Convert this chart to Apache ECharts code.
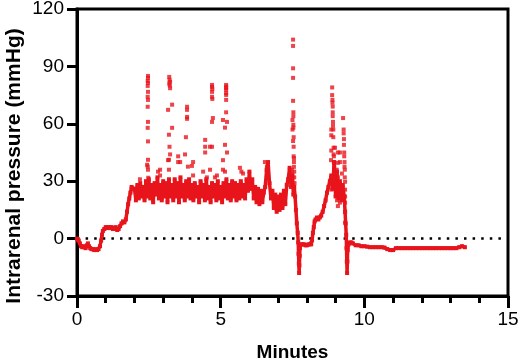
<!DOCTYPE html>
<html>
<head>
<meta charset="utf-8">
<script src="https://cdn.jsdelivr.net/npm/echarts@6/dist/echarts.min.js"></script>
<style>
  html, body { margin: 0; padding: 0; background: #fff; }
  #chart { width: 520px; height: 362px; }
</style>
</head>
<body>
<div id="chart"></div>
<script>
// pressure trace, [minutes, mmHg]
const startRun = [[0, 0], [0.03, -0.5], [0.06, -1], [0.10, -2.5], [0.14, -4], [0.18, -4.5], [0.22, -4], [0.26, -4.5],
  [0.30, -5], [0.34, -3.5], [0.38, -2.5], [0.42, -4], [0.46, -5], [0.50, -5.5], [0.55, -5.5], [0.60, -6], [0.65, -5.5],
  [0.70, -6], [0.75, -5.5], [0.80, -4], [0.84, -1], [0.87, 2], [0.90, 4], [0.95, 5], [1.00, 6], [1.05, 5.5], [1.10, 6],
  [1.15, 5.5], [1.20, 6], [1.25, 5], [1.30, 5.5], [1.35, 6], [1.40, 4.5], [1.45, 5], [1.50, 6.5], [1.55, 8], [1.60, 9],
  [1.65, 8.5], [1.70, 10], [1.74, 14], [1.78, 18], [1.82, 21], [1.86, 24], [1.90, 27], [1.94, 26]]

const plateauRun = [[2.00, 26], [2.05, 20], [2.10, 28], [2.15, 21], [2.20, 29], [2.25, 22], [2.30, 27], [2.35, 20],
  [2.40, 30], [2.45, 22], [2.50, 31], [2.55, 21], [2.60, 28], [2.65, 19], [2.70, 29], [2.75, 23], [2.80, 32], [2.85, 21],
  [2.90, 28], [2.95, 20], [3.00, 30], [3.05, 22], [3.10, 29], [3.15, 19], [3.20, 31], [3.25, 22], [3.30, 28], [3.35, 20],
  [3.40, 31], [3.45, 22], [3.50, 29], [3.55, 19], [3.60, 32], [3.65, 22], [3.70, 28], [3.75, 20], [3.80, 30], [3.85, 22],
  [3.90, 31], [3.95, 21], [4.00, 28], [4.05, 20], [4.10, 29], [4.15, 22], [4.20, 27], [4.25, 19], [4.30, 30], [4.35, 22],
  [4.40, 28], [4.45, 20], [4.50, 31], [4.55, 21], [4.60, 27], [4.65, 19], [4.70, 29], [4.75, 22], [4.80, 28], [4.85, 20],
  [4.90, 30], [4.95, 21], [5.00, 27], [5.05, 19], [5.10, 29], [5.15, 22], [5.20, 31], [5.25, 21], [5.30, 28], [5.35, 20],
  [5.40, 30], [5.45, 22], [5.50, 29], [5.55, 20], [5.60, 28], [5.65, 21], [5.70, 30], [5.75, 22], [5.80, 28], [5.85, 21],
  [5.90, 31], [5.95, 25], [6.00, 35], [6.05, 26], [6.10, 31], [6.15, 21], [6.20, 27], [6.25, 19], [6.30, 26], [6.35, 18],
  [6.40, 25], [6.45, 19], [6.50, 24], [6.55, 27], [6.60, 36], [6.65, 40], [6.70, 29], [6.75, 21], [6.80, 25], [6.85, 16],
  [6.90, 23], [6.95, 14], [7.00, 22], [7.05, 15], [7.10, 23], [7.15, 16], [7.20, 25], [7.25, 18], [7.30, 28], [7.35, 31],
  [7.40, 37], [7.45, 27], [7.50, 33], [7.53, 23]]

const dropRun = [[7.56, 27], [7.59, 22], [7.62, 15], [7.65, 8], [7.68, 3], [7.70, -2], [7.71, -8], [7.72, -13],
  [7.73, -18], [7.74, -14], [7.75, -9], [7.76, -5], [7.80, -3], [7.85, -3], [7.90, -3], [7.95, -3.5], [8.00, -3.5],
  [8.05, -3], [8.10, -3], [8.15, -3]]

const riseRun = [[8.18, -1], [8.21, 3], [8.24, 6], [8.27, 9], [8.30, 10], [8.35, 11], [8.40, 10], [8.45, 11], [8.50, 12],
  [8.55, 14], [8.60, 17], [8.65, 20], [8.70, 24], [8.75, 27], [8.80, 30], [8.85, 33], [8.90, 26], [8.95, 40], [9.00, 22],
  [9.05, 35], [9.10, 21], [9.15, 30], [9.20, 20], [9.25, 28], [9.30, 22], [9.33, 14], [9.35, 8], [9.37, 2], [9.38, -5],
  [9.39, -12], [9.40, -18], [9.41, -12], [9.42, -6]]

const tailRun = [[9.45, -3], [9.50, -2], [9.55, -2], [9.60, -2.5], [9.70, -3.5], [9.80, -3.5], [9.90, -4], [10.0, -4],
  [10.1, -4.2], [10.2, -4.5], [10.3, -4.5], [10.4, -4.5], [10.5, -4.5], [10.6, -4.5], [10.7, -4.7], [10.8, -5.5],
  [10.9, -6], [11.0, -6], [11.1, -5], [11.2, -5], [11.3, -5], [11.4, -5], [11.5, -5], [11.6, -5], [11.7, -5], [11.8, -5],
  [11.9, -5], [12.0, -5], [12.1, -5], [12.2, -5], [12.3, -5], [12.4, -5], [12.5, -5], [12.6, -5], [12.7, -5], [12.8, -5],
  [12.9, -5], [13.0, -5], [13.1, -5], [13.2, -5], [13.3, -4.5], [13.4, -4], [13.5, -4.5]]

// isolated readings during the pressure spikes
const spikePoints = [
  [2.47, 85], [2.47, 84], [2.46, 82.4], [2.47, 81.4], [2.46, 79.8], [2.47, 76.7], [2.46, 74.1], [2.47, 72.5],
  [2.46, 68.9], [2.47, 61], [2.46, 57.9], [2.47, 50.8], [2.47, 41.2], [2.46, 37.7], [2.47, 36], [2.48, 31.8],
  [2.44, 38.6], [2.82, 35], [2.19, 31], [2.89, 36], [2.89, 33],
  [3.21, 84.5], [3.22, 83], [3.24, 82], [3.21, 81], [3.23, 80], [3.24, 78.6], [3.17, 67.3], [3.31, 70], [3.31, 57.9],
  [3.20, 54.3], [3.22, 48], [3.20, 41.2], [3.24, 44], [3.17, 41], [3.20, 36],
  [3.83, 68.9], [3.83, 67.3], [3.83, 63.6], [3.83, 62.6], [3.79, 53], [3.52, 43], [3.52, 40], [3.86, 37.6],
  [4.04, 40], [4.04, 33], [3.59, 40], [3.76, 44], [4.00, 38], [4.39, 35], [4.52, 32],
  [4.70, 80.3], [4.70, 79.3], [4.71, 78.2], [4.70, 76.7], [4.70, 74.1], [4.71, 73], [4.73, 63], [4.70, 61],
  [4.46, 51.6], [4.46, 45], [4.46, 48], [4.70, 48], [4.63, 36], [4.63, 48], [4.80, 32], [4.87, 33],
  [5.19, 80.3], [5.19, 79.4], [5.19, 78.6], [5.19, 77.7], [5.19, 76], [5.19, 75.1], [5.19, 72.5], [5.19, 66],
  [5.22, 61], [5.15, 58], [5.15, 49], [5.22, 45], [5.08, 41], [5.15, 35], [5.08, 62], [5.08, 36],
  [5.67, 37], [5.72, 35], [5.78, 34], [6.54, 40], [6.61, 37.6], [7.48, 36], [7.48, 34],
  [7.52, 104], [7.52, 100.7], [7.52, 89], [7.52, 84], [7.52, 72], [7.53, 66], [7.53, 64], [7.53, 59.5], [7.53, 58],
  [7.54, 53], [7.54, 48], [7.54, 43], [7.55, 42], [7.55, 40], [7.55, 37.5], [7.56, 35], [7.56, 32], [7.57, 29],
  [7.50, 62], [7.50, 57], [7.52, 51],
  [8.88, 79], [8.88, 75], [8.89, 72.5], [8.89, 71], [8.90, 69], [8.90, 66], [8.90, 64], [8.91, 61], [8.91, 59],
  [8.92, 57], [8.92, 53], [8.93, 47.5], [8.93, 44], [8.94, 43], [8.94, 40], [8.95, 38], [8.95, 36], [8.96, 32],
  [8.96, 29], [8.85, 57], [8.85, 54], [8.85, 46], [8.84, 41], [8.84, 30], [8.85, 25.6],
  [8.98, 47.5], [9.08, 45], [9.08, 39.6], [9.04, 36], [9.08, 32], [9.15, 27], [9.04, 24], [9.11, 22], [9.15, 18.8],
  [9.11, 29], [9.15, 45], [9.15, 40], [9.22, 34], [9.05, 20], [9.08, 17],
  [9.26, 63], [9.28, 57], [9.28, 55], [9.29, 52], [9.29, 49], [9.30, 45], [9.30, 43], [9.31, 40], [9.31, 37.6],
  [9.32, 36], [9.32, 32], [9.33, 29.7], [9.33, 25.6], [9.33, 22], [9.33, 18.8], [9.33, 14], [9.33, 8.3]
]

const xTicks = { min: 0, max: 15, step: 5 }
const yTicks = { min: -30, max: 120, step: 30 }

const red = '#e8141c'
const font = 'Arial, "Liberation Sans", sans-serif'

const trace = [].concat(startRun, plateauRun, dropRun, riseRun, tailRun)

const chart = echarts.init(document.getElementById('chart'))

const black = { color: '#000', width: 3 }

chart.setOption({
  animation: false,
  grid: {
    left: 77, right: 12, top: 9, bottom: 66,
    outerBoundsMode: 'none',
    containLabel: false,
    show: true, borderColor: '#000', borderWidth: 3
  },
  xAxis: {
    type: 'value',
    min: xTicks.min, max: xTicks.max, interval: xTicks.step,
    axisLine: { show: true, onZero: false, lineStyle: black },
    axisTick: { show: true, inside: false, length: 12, lineStyle: black },
    minorTick: { show: true, splitNumber: 5, length: 7, lineStyle: black },
    splitLine: { show: false },
    axisLabel: { color: '#000', fontSize: 19, margin: 14, fontFamily: font },
    name: 'Minutes',
    nameLocation: 'middle',
    nameGap: 47,
    nameTextStyle: { color: '#000', fontSize: 19, fontWeight: 'bold', fontFamily: font }
  },
  yAxis: {
    type: 'value',
    min: yTicks.min, max: yTicks.max, interval: yTicks.step,
    axisLine: { show: true, onZero: false, lineStyle: black },
    axisTick: { show: true, inside: false, length: 10, lineStyle: black },
    splitLine: { show: false },
    axisLabel: { color: '#000', fontSize: 19, margin: 13, fontFamily: font }
  },
  graphic: [{
    type: 'text',
    x: 14, y: 166,
    rotation: Math.PI / 2,
    style: {
      text: 'Intrarenal pressure (mmHg)',
      font: 'bold 21px ' + font,
      fill: '#000',
      align: 'center', verticalAlign: 'middle',
      textAlign: 'center', textVerticalAlign: 'middle'
    }
  }],
  series: [
    {
      type: 'line',
      data: trace,
      symbol: 'rect',
      symbolSize: 4,
      itemStyle: { color: red },
      lineStyle: { color: red, width: 3.5 },
      z: 3,
      markLine: {
        silent: true,
        symbol: 'none',
        label: { show: false },
        lineStyle: { color: '#000', width: 2.5, type: [2.5, 6.1] },
        data: [{ yAxis: 0 }],
        z: 1
      }
    },
    {
      type: 'scatter',
      data: spikePoints,
      symbol: 'rect',
      symbolSize: 4,
      itemStyle: { color: red },
      z: 4
    }
  ]
})
</script>
</body>
</html>
